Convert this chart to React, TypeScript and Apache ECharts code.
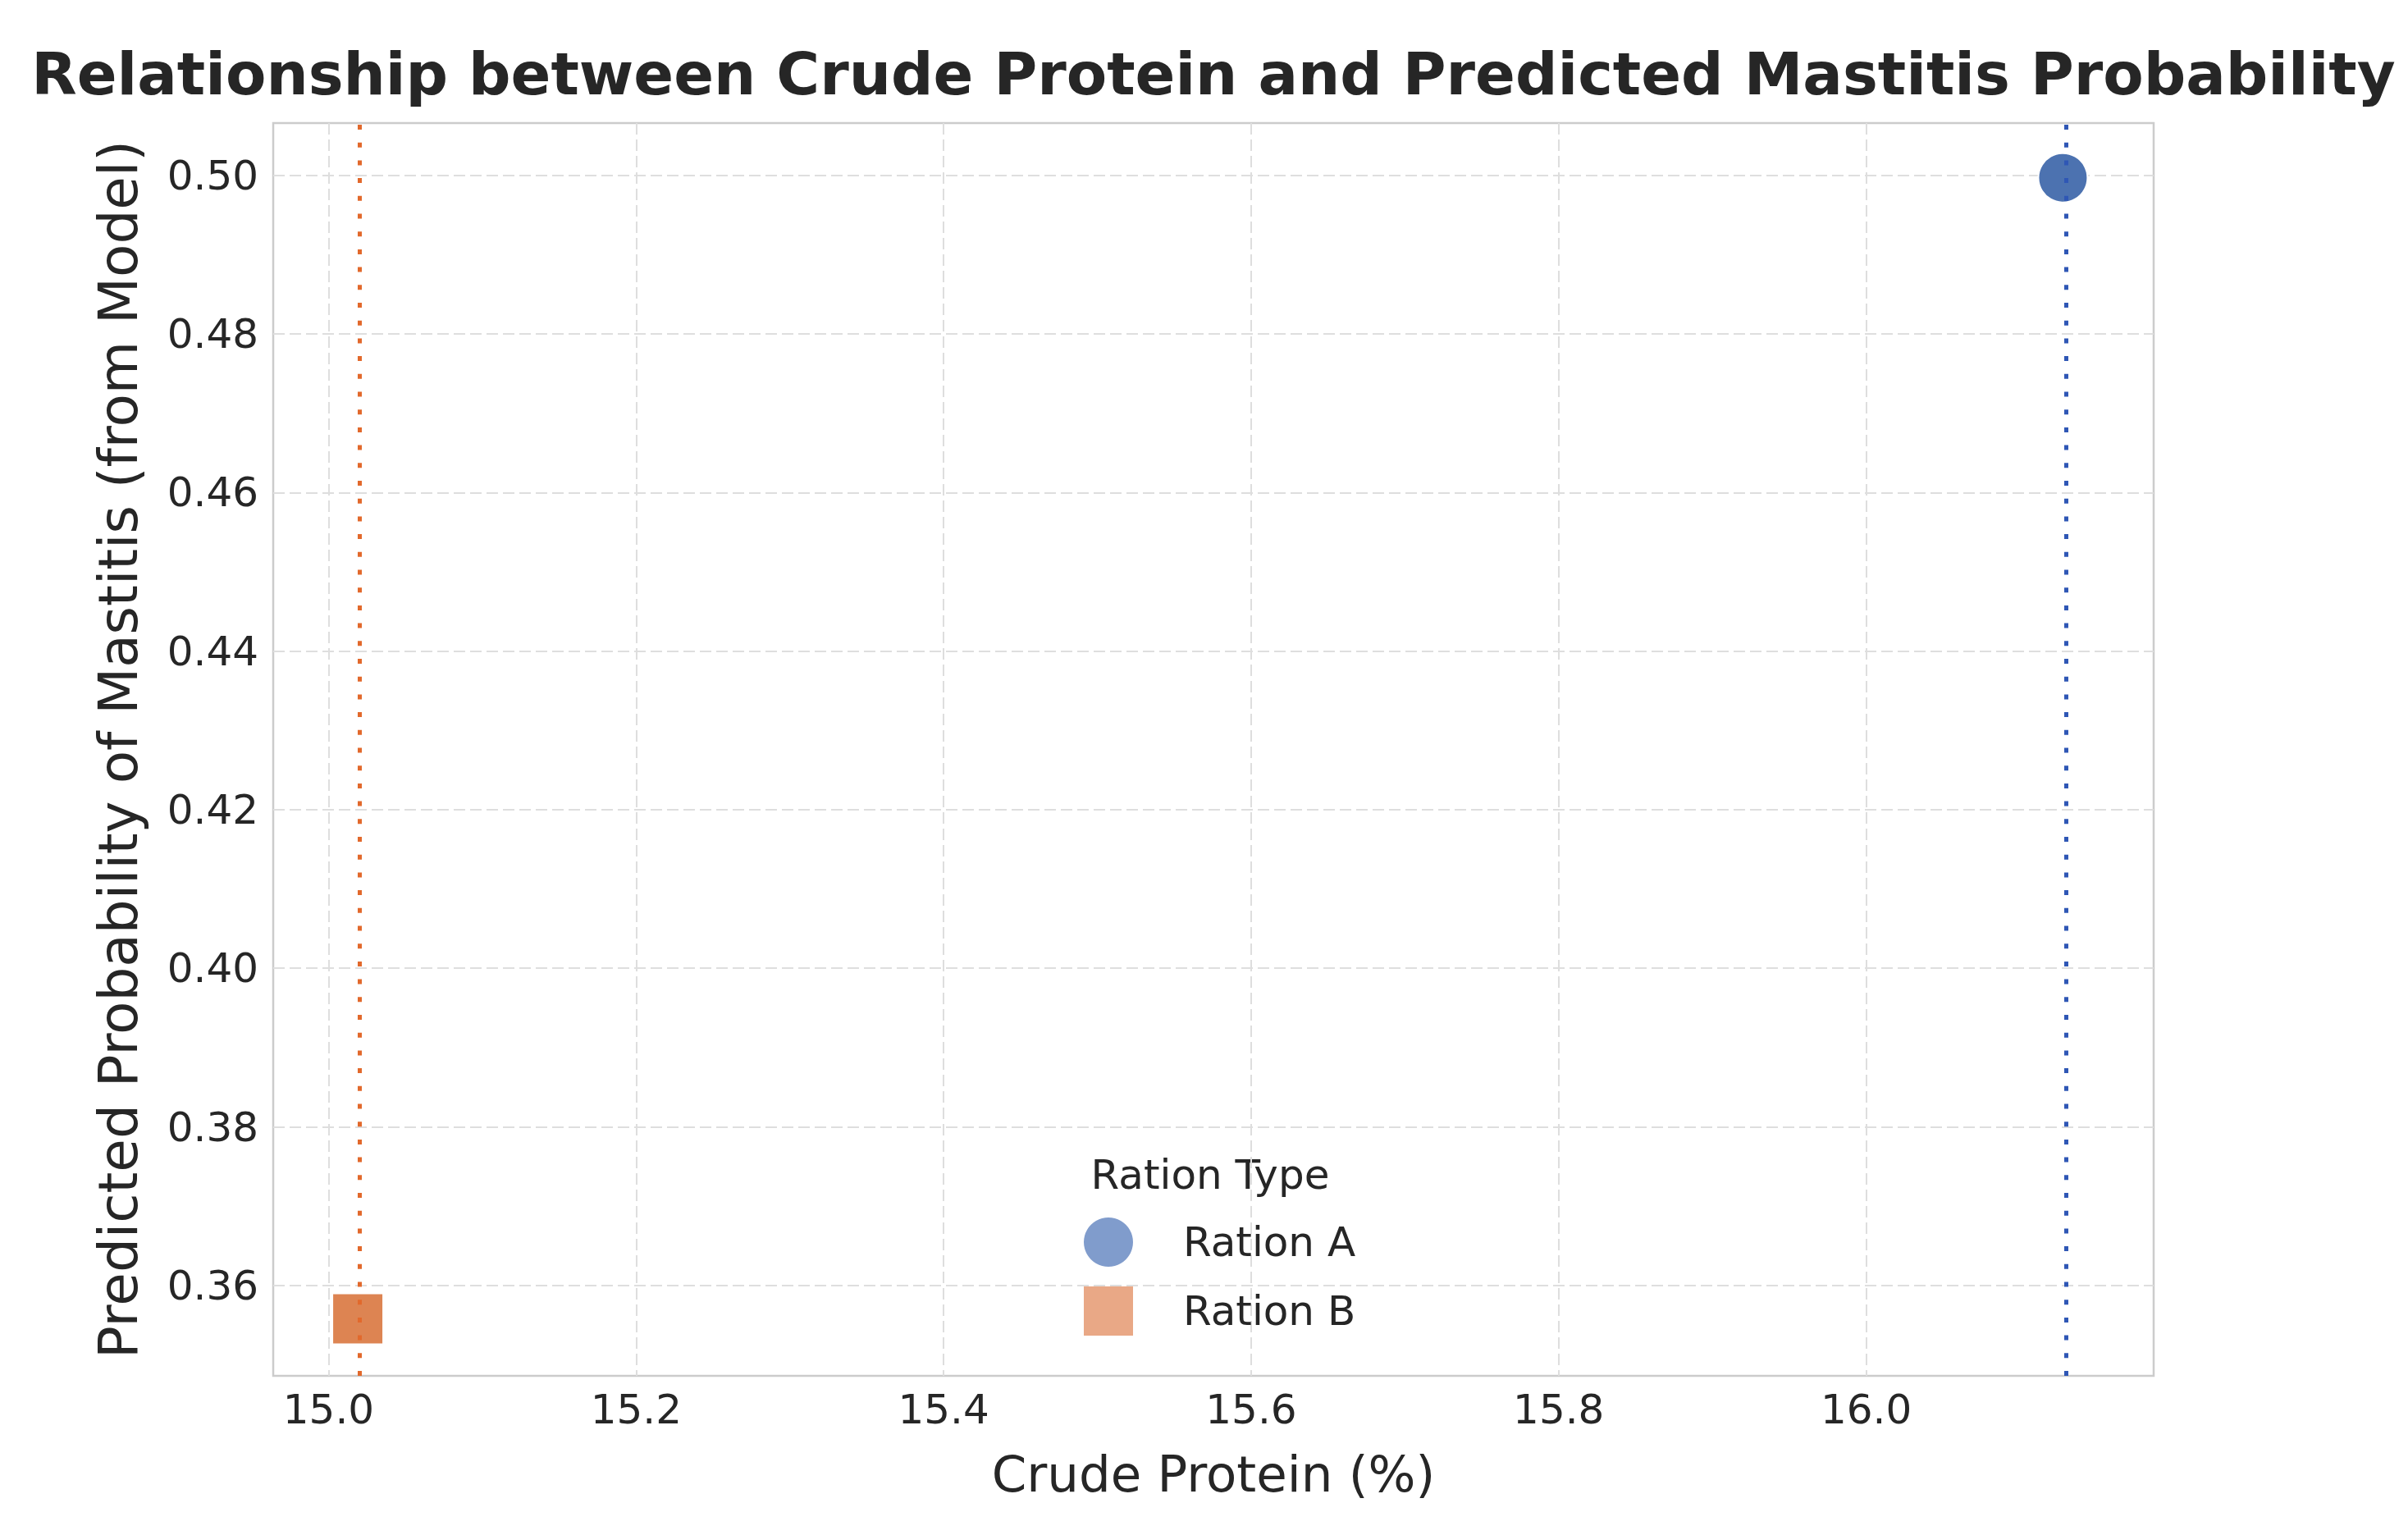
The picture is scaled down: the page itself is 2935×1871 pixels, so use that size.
import React, { useEffect, useRef } from "react";
import * as echarts from "echarts";

const rations = ["Ration A", "Ration B"];
const crudeProtein = [16.128, 15.019];
const predictedProb = [0.4997, 0.3558];
const xTicks = [15.0, 15.2, 15.4, 15.6, 15.8, 16.0];
const yTicks = [0.36, 0.38, 0.4, 0.42, 0.44, 0.46, 0.48, 0.5];
const xRange = [14.964, 16.187];
const yRange = [0.3486, 0.5066];
const symbols = ["circle", "rect"];
const markerColors = ["#4c72b0", "#dd8452"];
const legendColors = ["#809ccc", "#e9a886"];
const lineColors = ["#2f57b5", "#e2692c"];

const TITLE = "Relationship between Crude Protein and Predicted Mastitis Probability";
const X_NAME = "Crude Protein (%)";
const Y_NAME = "Predicted Probability of Mastitis (from Model)";
const LEGEND_TITLE = "Ration Type";
const FONT = "DejaVu Sans";
const TEXT = "#262626";

export default function App() {
  const ref = useRef<HTMLDivElement>(null);
  useEffect(() => {
    if (!ref.current) return;
    const chart = echarts.init(ref.current, null, { renderer: "svg" });

    const series = rations.map((name, i) => ({
      type: "scatter",
      name,
      symbol: symbols[i],
      symbolSize: symbols[i] === "rect" ? 62 : 60,
      data: [[crudeProtein[i], predictedProb[i]]],
      itemStyle: { color: markerColors[i], borderColor: "#ffffff", borderWidth: 2, opacity: 1 },
      emphasis: { disabled: true },
      markLine: {
        silent: true,
        symbol: ["none", "none"],
        label: { show: false },
        emphasis: { disabled: true },
        lineStyle: { color: lineColors[i], width: 5, type: [6, 15.7], cap: "butt" },
        data: [{ xAxis: crudeProtein[i] }],
      },
    }));

    chart.setOption({
      animation: false,
      backgroundColor: "#ffffff",
      textStyle: { fontFamily: FONT },
      grid: {
        left: 333,
        right: 310,
        top: 150,
        bottom: 194,
        show: true,
        borderColor: "#cccccc",
        borderWidth: 2.5,
        backgroundColor: "#ffffff",
      },
      xAxis: {
        type: "value",
        min: xRange[0],
        max: xRange[1],
        name: X_NAME,
        nameLocation: "middle",
        nameGap: 89,
        nameTextStyle: { fontSize: 61, color: TEXT, fontFamily: FONT },
        axisLine: { show: false },
        axisTick: { show: false, customValues: xTicks },
        axisLabel: {
          customValues: xTicks,
          fontSize: 50,
          color: TEXT,
          fontFamily: FONT,
          margin: 16,
          formatter: (v: number) => v.toFixed(1),
        },
        splitLine: {
          show: true,
          lineStyle: { color: "#dedede", width: 2, type: [14, 6] },
        },
      },
      yAxis: {
        type: "value",
        min: yRange[0],
        max: yRange[1],
        name: Y_NAME,
        nameLocation: "middle",
        nameGap: 156,
        nameTextStyle: { fontSize: 66, color: TEXT, fontFamily: FONT },
        axisLine: { show: false },
        axisTick: { show: false, customValues: yTicks },
        axisLabel: {
          customValues: yTicks,
          fontSize: 50,
          color: TEXT,
          fontFamily: FONT,
          margin: 18,
          formatter: (v: number) => v.toFixed(2),
        },
        splitLine: {
          show: true,
          lineStyle: { color: "#dedede", width: 2, type: [14, 6] },
        },
      },
      legend: {
        orient: "vertical",
        left: 1316,
        top: 1479,
        itemWidth: 60,
        itemHeight: 60,
        itemGap: 24,
        selectedMode: false,
        textStyle: { fontSize: 50, color: TEXT, fontFamily: FONT, padding: [0, 0, 0, 56] },
        data: rations.map((name, i) => ({
          name,
          icon: symbols[i],
          itemStyle: { color: legendColors[i], borderWidth: 0 },
        })),
      },
      graphic: [
        {
          type: "text",
          x: 1479,
          y: 90,
          style: {
            text: TITLE,
            fontSize: 72,
            fontWeight: "bold",
            fontFamily: FONT,
            fill: TEXT,
            textAlign: "center",
            textVerticalAlign: "middle",
          },
        },
        {
          type: "text",
          x: 1475,
          y: 1432,
          style: {
            text: LEGEND_TITLE,
            fontSize: 50,
            fontFamily: FONT,
            fill: TEXT,
            textAlign: "center",
            textVerticalAlign: "middle",
          },
        },
      ],
      series,
    });
    return () => chart.dispose();
  }, []);
  return (
    <div
      ref={ref}
      style={{ position: "absolute", left: 0, top: 0, width: 2935, height: 1871 }}
    />
  );
}
